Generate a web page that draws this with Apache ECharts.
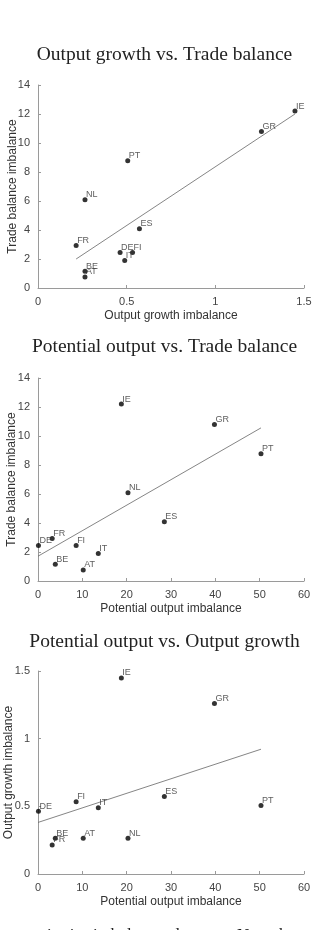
<!DOCTYPE html>
<html>
	<head>
		<meta charset="utf-8">
		<title></title>
		<script src="https://cdn.jsdelivr.net/npm/echarts@6/dist/echarts.min.js"></script>
	</head>
	<body style="margin: 0; overflow: hidden; background: #fff;">
		<div id="main" style="width: 318px; height: 930px;"></div>
		<script type="text/javascript">
			// data
			var countries = ['DE', 'FR', 'BE', 'AT', 'FI', 'IT', 'NL', 'IE', 'ES', 'GR', 'PT'];
			var outputGrowth = [0.463, 0.215, 0.265, 0.265, 0.533, 0.489, 0.265, 1.449, 0.572, 1.260, 0.506];
			var tradeBalance = [2.44, 2.93, 1.15, 0.76, 2.44, 1.89, 6.08, 12.2, 4.08, 10.8, 8.77];
			var potentialOutput = [0.1, 3.2, 3.9, 10.2, 8.6, 13.6, 20.3, 18.8, 28.5, 39.8, 50.3];

			// fitted lines (end points)
			var fit1X = [0.215, 1.449], fit1Y = [2.0, 12.0];
			var fit2X = [0, 50.3], fit2Y = [1.71, 10.56];
			var fit3X = [0, 50.3], fit3Y = [0.381, 0.922];

			var titles = ['Output growth vs. Trade balance', 'Potential output vs. Trade balance', 'Potential output vs. Output growth'];
			var xNames = ['Output growth imbalance', 'Potential output imbalance', 'Potential output imbalance'];
			var yNames = ['Trade balance imbalance', 'Trade balance imbalance', 'Output growth imbalance'];

			function pts(xs, ys) {
				return countries.map(function (c, i) { return [xs[i], ys[i], c]; });
			}
			function line(xs, ys) {
				return xs.map(function (x, i) { return [x, ys[i]]; });
			}

			var gridTops = [85, 378, 671];
			var titleYs = [55, 347, 642];
			var grids = gridTops.map(function (t) {
				return { left: 38, top: t, width: 266, height: 203, containLabel: false, outerBoundsMode: 'none' };
			});

			var axisCommon = {
				axisLine: { lineStyle: { color: '#9a9a9a', width: 1 } },
				axisTick: { inside: true, length: 3, lineStyle: { color: '#9a9a9a' } },
				axisLabel: { color: '#444', fontSize: 11, fontFamily: 'Liberation Sans' },
				splitLine: { show: false },
				nameLocation: 'middle',
				nameMoveOverlap: false,
				nameTextStyle: { color: '#333', fontSize: 12, fontFamily: 'Liberation Sans' }
			};
			function ax(extra) {
				return Object.assign({}, JSON.parse(JSON.stringify(axisCommon)), extra);
			}

			var xAxes = [
				ax({ gridIndex: 0, type: 'value', min: 0, max: 1.5, interval: 0.5, name: xNames[0], nameGap: 22 }),
				ax({ gridIndex: 1, type: 'value', min: 0, max: 60, interval: 10, name: xNames[1], nameGap: 22 }),
				ax({ gridIndex: 2, type: 'value', min: 0, max: 60, interval: 10, name: xNames[2], nameGap: 22 })
			];
			var yAxes = [
				ax({ gridIndex: 0, type: 'value', min: 0, max: 14, interval: 2, name: yNames[0], nameGap: 19 }),
				ax({ gridIndex: 1, type: 'value', min: 0, max: 14, interval: 2, name: yNames[1], nameGap: 20 }),
				ax({ gridIndex: 2, type: 'value', min: 0, max: 1.5, interval: 0.5, name: yNames[2], nameGap: 23 })
			];

			var scatterLabel = {
				show: true,
				position: 'right',
				offset: [-6.5, -5],
				color: '#333',
				fontSize: 9,
				fontFamily: 'Liberation Sans',
				formatter: function (p) { return p.data[2]; }
			};

			function scatter(i, data) {
				return {
					type: 'scatter', xAxisIndex: i, yAxisIndex: i,
					symbolSize: 5, itemStyle: { color: '#000' },
					label: scatterLabel, data: data, z: 3
				};
			}
			function fit(i, data) {
				return {
					type: 'line', xAxisIndex: i, yAxisIndex: i,
					showSymbol: false, silent: true,
					lineStyle: { color: '#666', width: 0.8 },
					data: data, z: 2
				};
			}

			var graphics = titles.map(function (t, i) {
				return {
					type: 'text', x: 164.5, y: titleYs[i],
					style: {
						text: t, align: 'center', verticalAlign: 'middle',
						fontFamily: 'Liberation Serif', fontSize: 19.5, fill: '#222'
					}
				};
			});
			// caption of the page below, cut off by the picture edge
			graphics.push({
				type: 'text', x: -2, y: 927,
				style: { text: 'ters, pairwise imbalance plots.', fontFamily: 'Liberation Serif', fontSize: 17, fill: '#222' }
			});
			graphics.push({
				type: 'text', x: 237, y: 927,
				style: { text: 'Note the', fontFamily: 'Liberation Serif', fontSize: 17, fill: '#222' }
			});

			var myChart = echarts.init(document.getElementById('main'));
			var option = {
				animation: false,
				grid: grids,
				xAxis: xAxes,
				yAxis: yAxes,
				series: [
					scatter(0, pts(outputGrowth, tradeBalance)),
					fit(0, line(fit1X, fit1Y)),
					scatter(1, pts(potentialOutput, tradeBalance)),
					fit(1, line(fit2X, fit2Y)),
					scatter(2, pts(potentialOutput, outputGrowth)),
					fit(2, line(fit3X, fit3Y))
				],
				graphic: graphics
			};
			myChart.setOption(option);
		</script>
	</body>
</html>
